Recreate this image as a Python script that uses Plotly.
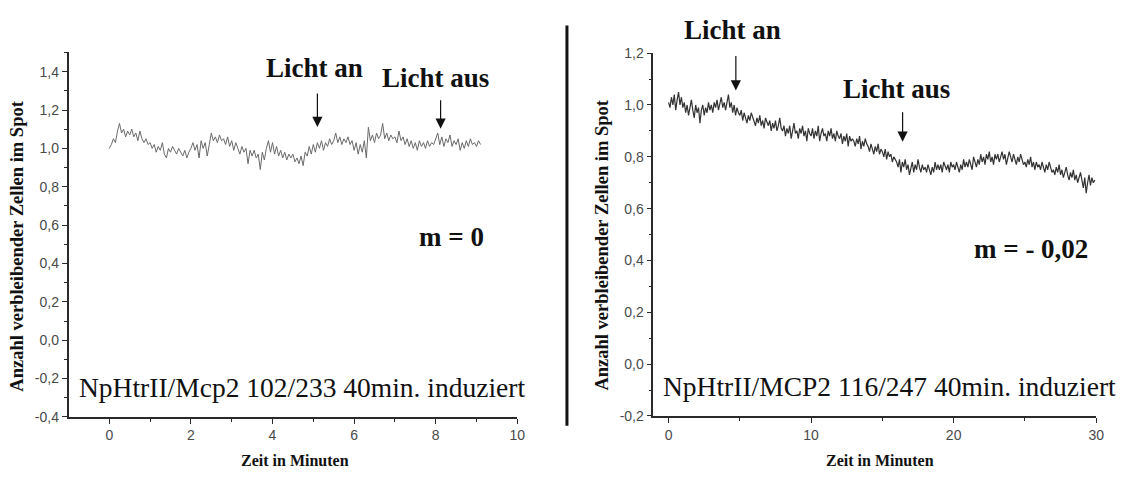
import plotly.graph_objects as go

W, H = 1127, 481

# --- left panel: NpHtrII/Mcp2 102/233, sampled every 0.05 min ---
left_step = 0.05
left_values = [
    1.00, 1.02, 1.05, 1.03, 1.09, 1.13, 1.08, 1.10, 1.06, 1.09,
    1.07, 1.10, 1.06, 1.08, 1.04, 1.09, 1.05, 1.03, 1.05, 1.02,
    1.03, 1.00, 1.02, 0.98, 1.01, 0.99, 1.03, 0.97, 0.95, 1.00,
    0.98, 1.01, 0.99, 0.97, 1.00, 0.98, 0.96, 0.99, 0.95, 0.98,
    1.00, 1.03, 0.99, 1.02, 0.95, 1.04, 1.00, 1.03, 0.96, 1.02,
    1.08, 1.04, 1.06, 1.03, 1.07, 1.04, 1.05, 1.02, 1.06, 1.01,
    1.04, 0.99, 1.03, 1.00, 0.97, 1.01, 0.98, 1.00, 0.92, 0.99,
    0.96, 0.99, 0.95, 0.97, 0.89, 0.98, 0.94, 1.00, 1.04, 0.98,
    1.03, 0.97, 1.01, 0.96, 0.99, 0.95, 0.98, 0.94, 0.97, 0.95,
    0.97, 0.93, 0.95, 0.92, 0.96, 0.91, 0.98, 0.96, 1.01, 0.97,
    1.02, 0.98, 1.03, 1.00, 1.04, 0.99, 1.03, 1.01, 1.05, 1.02,
    1.04, 1.08, 1.03, 1.06, 1.02, 1.05, 1.03, 1.06, 1.02, 1.04,
    0.99, 1.03, 0.97, 1.02, 0.98, 1.04, 0.95, 1.11, 1.04, 1.07,
    1.03, 1.08, 1.05, 1.07, 1.13, 1.05, 1.08, 1.04, 1.07, 1.05,
    1.06, 1.03, 1.09, 1.04, 1.06, 1.02, 1.05, 1.01, 1.04, 1.00,
    1.03, 0.99, 1.04, 1.01, 1.03, 1.00, 1.04, 1.01, 1.03, 1.02,
    1.05, 1.08, 1.02, 1.06, 1.01, 1.05, 1.03, 1.07, 1.01, 1.04,
    1.02, 1.05, 0.99, 1.03, 1.00, 1.04, 1.01, 1.05, 1.02, 1.03,
    1.01, 1.04, 1.02,
]
left_time = [round(i * left_step, 3) for i in range(len(left_values))]

# --- right panel: NpHtrII/MCP2 116/247, sampled every 0.1 min ---
right_step = 0.1
right_values = [
    1.01, 0.99, 1.03, 1.00, 1.04, 0.98, 1.02, 1.05, 1.00, 1.03,
    0.99, 1.01, 0.97, 1.00, 0.96, 0.99, 1.02, 0.98, 0.95, 1.00,
    0.97, 0.99, 0.93, 0.98, 1.00, 0.96, 0.99, 0.97, 1.01, 0.98,
    1.00, 0.97, 1.01, 0.99, 1.02, 0.98, 1.00, 1.03, 0.99, 1.01,
    0.98, 1.02, 1.04, 0.99, 1.01, 0.97, 1.00, 0.96, 0.99, 0.97,
    0.96, 0.98, 0.94, 0.97, 0.95, 0.93, 0.96, 0.94, 0.97, 0.95,
    0.94, 0.92, 0.95, 0.93, 0.96, 0.92, 0.94, 0.91, 0.95, 0.93,
    0.92, 0.94, 0.90, 0.93, 0.91, 0.94, 0.90, 0.92, 0.95, 0.91,
    0.90, 0.92, 0.88, 0.91, 0.89, 0.92, 0.87, 0.90, 0.93, 0.89,
    0.90, 0.87, 0.91, 0.89, 0.92, 0.88, 0.90, 0.86, 0.91, 0.89,
    0.88, 0.91, 0.87, 0.90, 0.88, 0.92, 0.86, 0.89, 0.91, 0.88,
    0.89, 0.86, 0.90, 0.88, 0.91, 0.87, 0.89, 0.86, 0.90, 0.88,
    0.87, 0.89, 0.85, 0.88, 0.86, 0.89, 0.84, 0.88, 0.86, 0.87,
    0.86, 0.84, 0.87, 0.85, 0.88, 0.83, 0.86, 0.84, 0.87, 0.85,
    0.84, 0.82, 0.85, 0.83, 0.81, 0.84, 0.82, 0.85, 0.81, 0.83,
    0.82, 0.80, 0.83, 0.79, 0.82, 0.80, 0.81, 0.78, 0.80, 0.79,
    0.78, 0.76, 0.79, 0.74, 0.78, 0.76, 0.79, 0.75, 0.77, 0.73,
    0.76, 0.78, 0.74, 0.77, 0.75, 0.79, 0.76, 0.74, 0.77, 0.75,
    0.76, 0.74, 0.77, 0.75, 0.73, 0.76, 0.74, 0.78, 0.75, 0.77,
    0.75, 0.77, 0.74, 0.78, 0.76, 0.75, 0.77, 0.74, 0.78, 0.76,
    0.77, 0.75, 0.78, 0.76, 0.74, 0.77, 0.75, 0.79, 0.76, 0.78,
    0.76, 0.79, 0.77, 0.75, 0.80, 0.78, 0.76, 0.79, 0.77, 0.81,
    0.78, 0.80, 0.77, 0.81, 0.79, 0.82, 0.78, 0.80, 0.77, 0.81,
    0.79, 0.81, 0.78, 0.80, 0.82, 0.79, 0.81, 0.77, 0.80, 0.82,
    0.80, 0.78, 0.81, 0.79, 0.77, 0.80, 0.78, 0.81, 0.79, 0.77,
    0.78, 0.76, 0.79, 0.77, 0.80, 0.76, 0.78, 0.75, 0.78, 0.76,
    0.77, 0.75, 0.78, 0.76, 0.74, 0.77, 0.75, 0.78, 0.76, 0.74,
    0.75, 0.73, 0.76, 0.74, 0.77, 0.73, 0.75, 0.72, 0.74, 0.76,
    0.73, 0.71, 0.74, 0.72, 0.75, 0.71, 0.73, 0.70, 0.72, 0.74,
    0.71, 0.68, 0.72, 0.66, 0.70, 0.73, 0.69, 0.72, 0.70, 0.71,
]
right_time = [round(i * right_step, 3) for i in range(len(right_values))]

# axis tick values and labels
left_xticks = [0, 2, 4, 6, 8, 10]
left_yticks = [-0.4, -0.2, 0.0, 0.2, 0.4, 0.6, 0.8, 1.0, 1.2, 1.4]
left_ylabels = ["-0,4", "-0,2", "0,0", "0,2", "0,4", "0,6", "0,8", "1,0", "1,2", "1,4"]
right_xticks = [0, 10, 20, 30]
right_yticks = [-0.2, 0.0, 0.2, 0.4, 0.6, 0.8, 1.0, 1.2]
right_ylabels = ["-0,2", "0,0", "0,2", "0,4", "0,6", "0,8", "1,0", "1,2"]

# light on / off markers (minutes) and slopes
left_light_on, left_light_off = 5.1, 8.12
right_light_on, right_light_off = 4.72, 16.42
left_slope_text = "m = 0"
right_slope_text = "m = - 0,02"
left_label = "NpHtrII/Mcp2 102/233 40min. induziert"
right_label = "NpHtrII/MCP2 116/247 40min. induziert"
y_title = "Anzahl verbleibender Zellen im Spot"
x_title = "Zeit in Minuten"


def px(x):
    return x / W


def py(y):
    return 1 - y / H


SANS = "Liberation Sans, Arial, sans-serif"
SERIF = "Liberation Serif, Times New Roman, serif"
AXIS_COLOR = "#2a2a2a"
TICK_FONT = dict(family=SANS, size=14, color="#4a4a4a")

fig = go.Figure()
fig.add_trace(go.Scatter(x=left_time, y=left_values, mode="lines",
                         line=dict(color="#6a6a6a", width=1), xaxis="x", yaxis="y",
                         showlegend=False, hoverinfo="skip"))
fig.add_trace(go.Scatter(x=right_time, y=right_values, mode="lines",
                         line=dict(color="#333333", width=1.2), xaxis="x2", yaxis="y2",
                         showlegend=False, hoverinfo="skip"))


def axis_style(**kw):
    d = dict(showline=True, linecolor=AXIS_COLOR, linewidth=1.5, ticks="outside",
             ticklen=5, tickwidth=1.2, tickcolor=AXIS_COLOR, showgrid=False,
             zeroline=False, tickfont=TICK_FONT, tickmode="array")
    d.update(kw)
    return d


fig.update_layout(
    width=W, height=H,
    margin=dict(l=0, r=0, t=0, b=0),
    paper_bgcolor="white", plot_bgcolor="white",
    xaxis=axis_style(domain=[px(69), px(521)], range=[-1, 10], anchor="y",
                     tickvals=left_xticks, ticktext=[str(v) for v in left_xticks],
                     minor=dict(tickvals=[1, 3, 5, 7, 9], ticks="outside", ticklen=3,
                                tickcolor=AXIS_COLOR)),
    yaxis=axis_style(domain=[py(423), py(46)], range=[-0.4, 1.5], anchor="x",
                     tickvals=left_yticks, ticktext=left_ylabels,
                     minor=dict(tickvals=[-0.3, -0.1, 0.1, 0.3, 0.5, 0.7, 0.9, 1.1, 1.3, 1.5],
                                ticks="outside", ticklen=3, tickcolor=AXIS_COLOR)),
    xaxis2=axis_style(domain=[px(658), px(1104)], range=[-1.07, 30], anchor="y2",
                      tickvals=right_xticks, ticktext=[str(v) for v in right_xticks],
                      minor=dict(tickvals=[5, 15, 25], ticks="outside", ticklen=3,
                                 tickcolor=AXIS_COLOR)),
    yaxis2=axis_style(domain=[py(422), py(46.7)], range=[-0.2, 1.2], anchor="x2",
                      tickvals=right_yticks, ticktext=right_ylabels,
                      minor=dict(tickvals=[-0.1, 0.1, 0.3, 0.5, 0.7, 0.9, 1.1],
                                 ticks="outside", ticklen=3, tickcolor=AXIS_COLOR)),
)

ann = []


def text(xp, yp, s, size, bold=False, angle=0):
    ann.append(dict(x=px(xp), y=py(yp), xref="paper", yref="paper", text=s,
                    showarrow=False, textangle=angle, xanchor="center", yanchor="middle",
                    font=dict(family=SERIF, size=size, color="#111111",
                              weight="bold" if bold else "normal")))


def arrow(xd, yd, xr, yr, length):
    ann.append(dict(x=xd, y=yd, xref=xr, yref=yr, ax=0, ay=-length, text="",
                    showarrow=True, arrowhead=2, arrowsize=1.7, arrowwidth=1.2,
                    arrowcolor="#111111"))


# left panel texts
text(317, 62, "Licht an", 27, bold=True)
text(439, 72, "Licht aus", 27, bold=True)
arrow(left_light_on, 1.112, "x", "y", 35)
arrow(left_light_off, 1.102, "x", "y", 30)
text(455, 237, left_slope_text, 27, bold=True)
text(304, 393, left_label, 27.5)
text(17, 246, y_title, 18.5, bold=True, angle=-90)
text(297, 468, x_title, 16, bold=True)

# right panel texts
text(738, 23, "Licht an", 27, bold=True)
text(903, 84, "Licht aus", 27, bold=True)
arrow(right_light_on, 1.056, "x2", "y2", 36)
arrow(right_light_off, 0.858, "x2", "y2", 31)
text(1038, 249, right_slope_text, 27, bold=True)
text(896, 392, right_label, 27.5)
text(606, 245, y_title, 18.5, bold=True, angle=-90)
text(886, 468, x_title, 16, bold=True)

fig.update_layout(annotations=ann)

# vertical divider between the two panels
fig.add_shape(type="line", xref="paper", yref="paper",
              x0=px(571), x1=px(571), y0=py(18), y1=py(432),
              line=dict(color="#111111", width=3))

fig.write_html("out.html")
